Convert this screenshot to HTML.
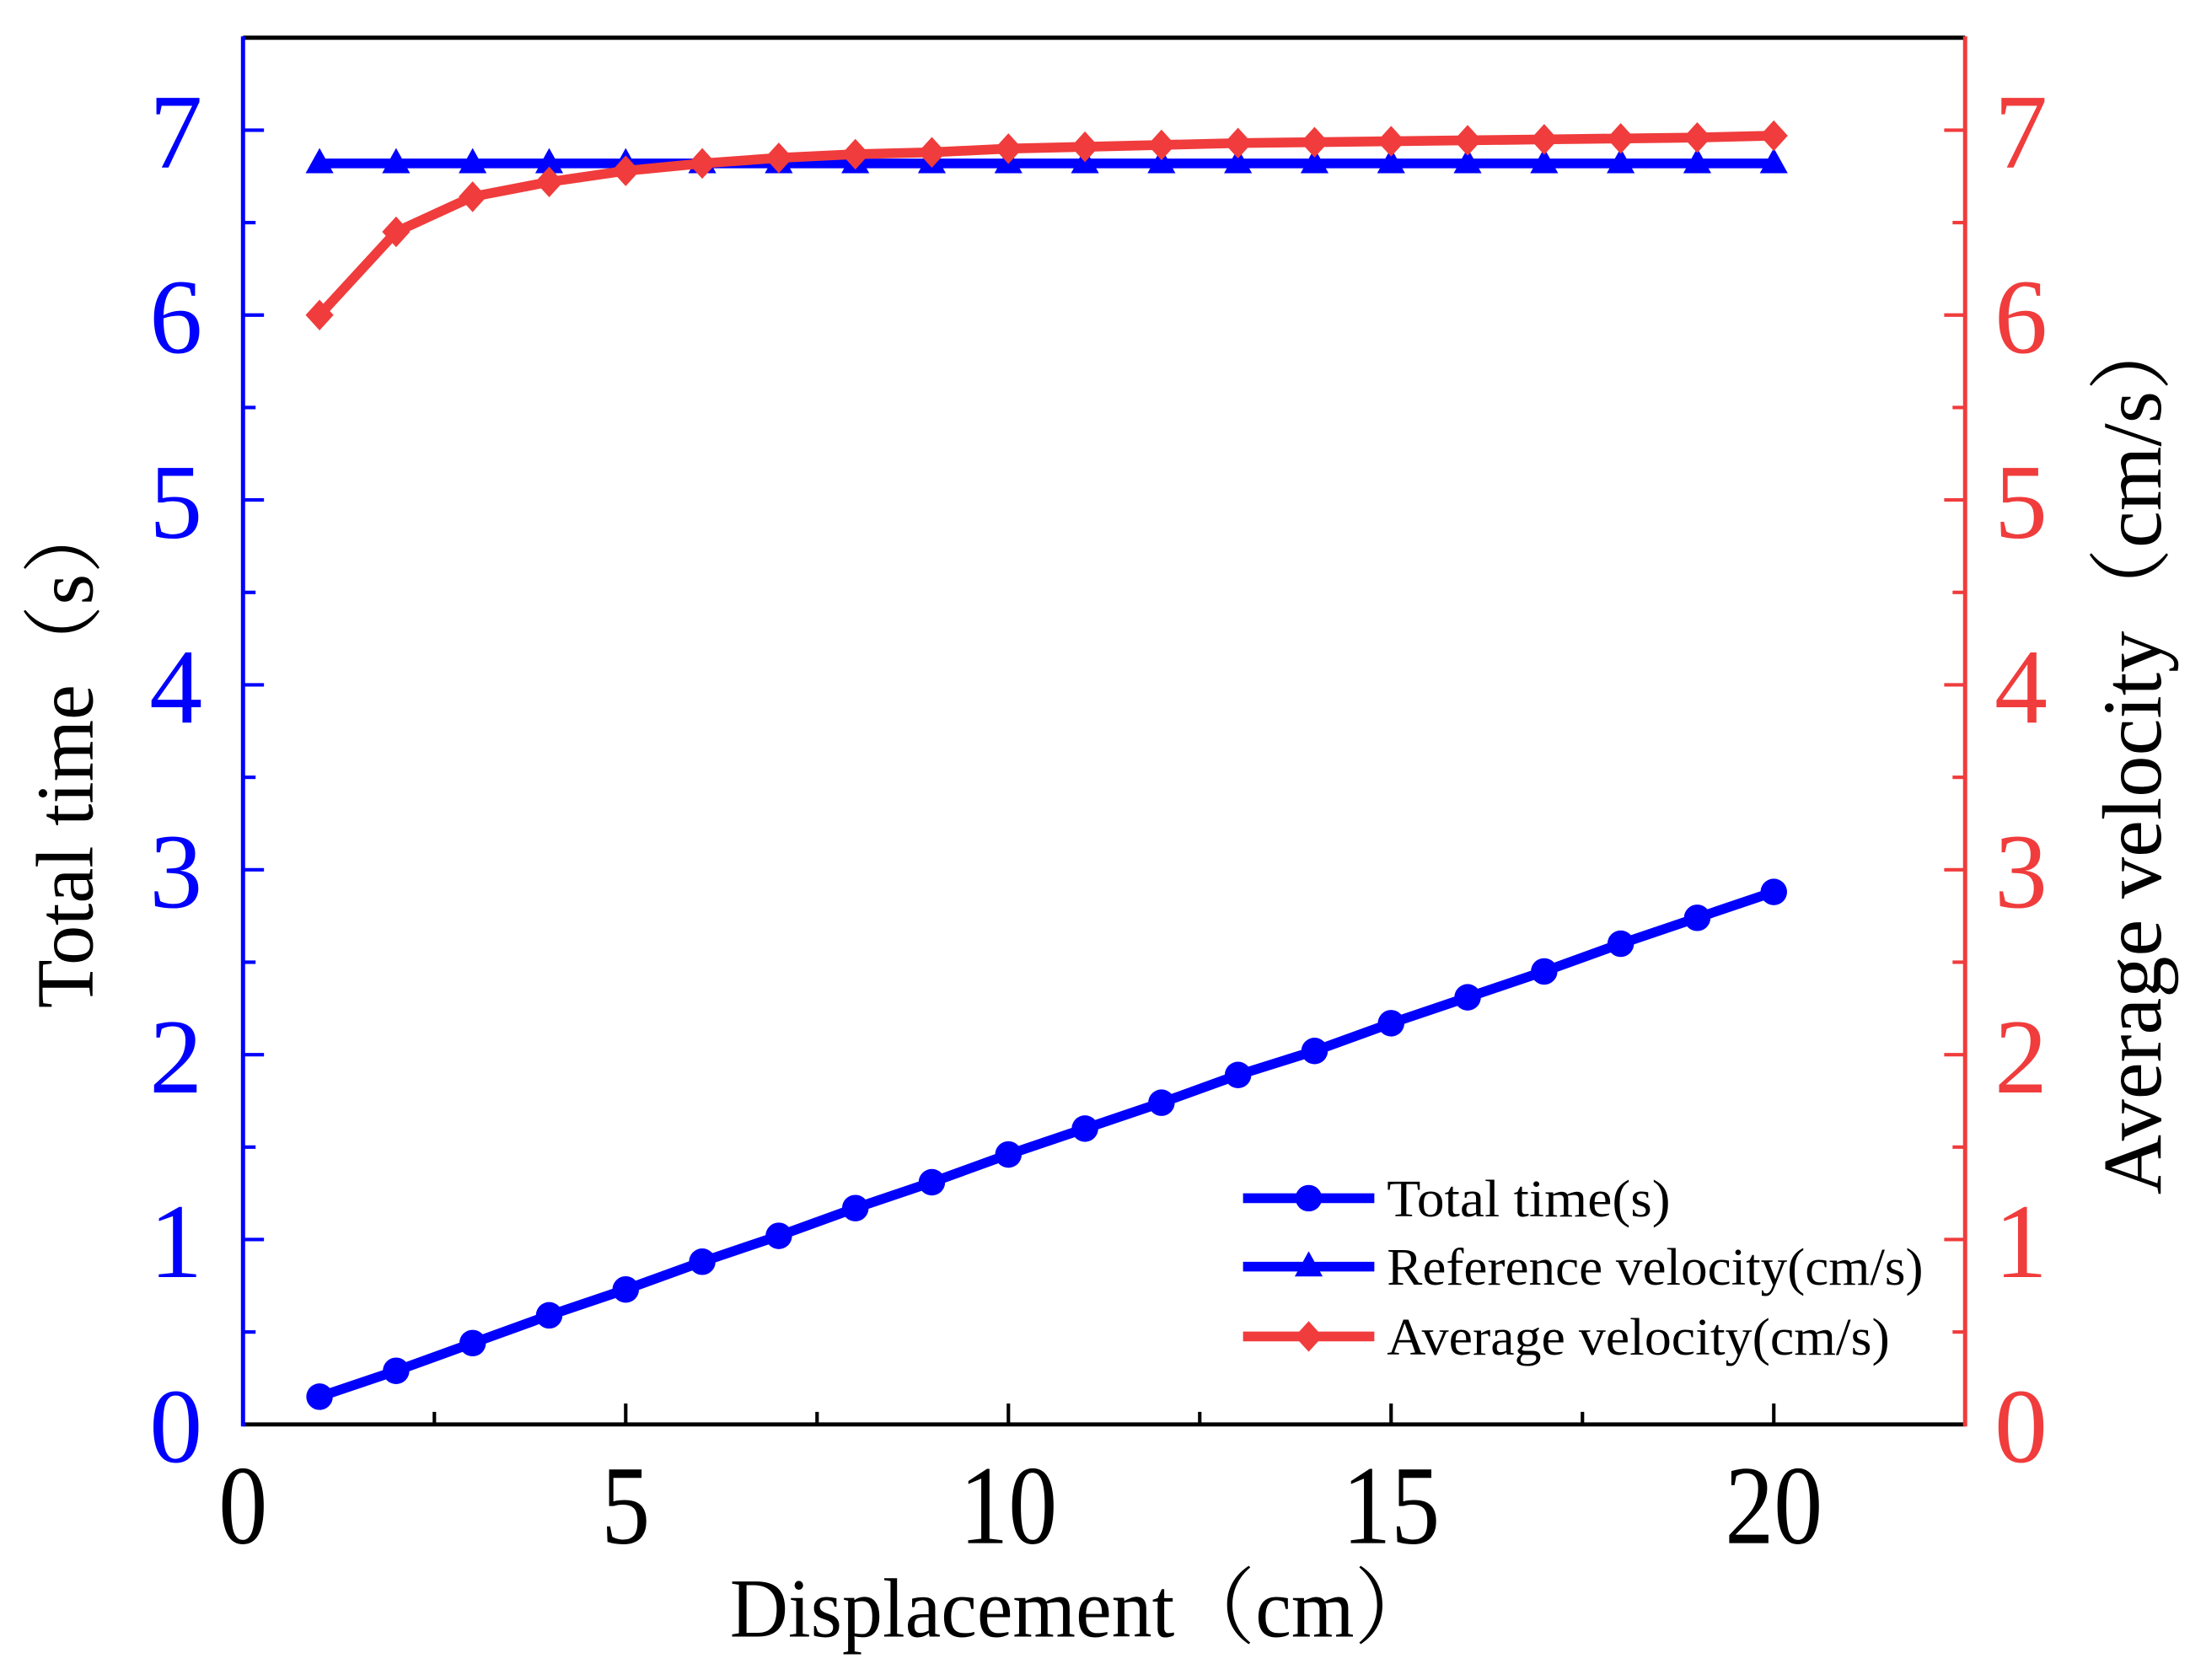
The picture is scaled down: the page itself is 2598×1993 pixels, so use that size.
<!DOCTYPE html>
<html><head><meta charset="utf-8"><style>
html,body{margin:0;padding:0;background:#fff}
svg{display:block}
text{font-family:"Liberation Serif","Noto Serif CJK SC",serif}
</style></head><body>
<svg id="chart" width="2598" height="1993" viewBox="0 0 1568 1203" preserveAspectRatio="none" xmlns="http://www.w3.org/2000/svg">
<g id="axes"></g><g id="series"></g><g id="legend"></g>
</svg>
<script>
const xs = [1,2,3,4,5,6,7,8,9,10,11,12,13,14,15,16,17,18,19,20];
const totalTime = [0.15,0.29,0.44,0.59,0.73,0.88,1.02,1.17,1.31,1.46,1.60,1.74,1.89,2.02,2.17,2.31,2.45,2.60,2.74,2.88];
const refVel = [6.82,6.82,6.82,6.82,6.82,6.82,6.82,6.82,6.82,6.82,6.82,6.82,6.82,6.82,6.82,6.82,6.82,6.82,6.82,6.82];
const avgVel = [6.0,6.45,6.64,6.72,6.78,6.82,6.85,6.87,6.88,6.90,6.91,6.92,6.93,6.935,6.94,6.945,6.95,6.955,6.96,6.97];
const xTicks = [0,5,10,15,20];
const yTicks = [0,1,2,3,4,5,6,7];
const legendLabels = ["Total time(s)","Reference velocity(cm/s)","Average velocity(cm/s)"];

const L=174,R=1407,T=27,B=1020,XMAX=22.5,YMAX=7.5;
const sx=v=>L+v/XMAX*(R-L);
const sy=v=>B-v/YMAX*(B-T);
const NS="http://www.w3.org/2000/svg";
function mk(tag,attrs,parent){const e=document.createElementNS(NS,tag);for(const k in attrs)e.setAttribute(k,attrs[k]);parent.appendChild(e);return e;}
const ax=document.getElementById('axes'),se=document.getElementById('series'),lg=document.getElementById('legend');

let e;
e=mk('line',{x1:L,y1:T,x2:R,y2:T,stroke:'#000','stroke-width':3},ax);


e=mk('line',{x1:L,y1:B,x2:R,y2:B,stroke:'#000','stroke-width':3},ax);


e=mk('line',{x1:L,y1:T-1,x2:L,y2:B+1.5,stroke:'#0000ff','stroke-width':3},ax);


e=mk('line',{x1:R,y1:T-1,x2:R,y2:B+1.5,stroke:'#f03c3c','stroke-width':3},ax);



for(let v=2.5;v<XMAX;v+=2.5){
  const major=Math.abs(v%5)<1e-6;
  e=mk('line',{x1:sx(v),y1:B,x2:sx(v),y2:B-(major?15:9),stroke:'#000','stroke-width':2.5},ax);
  
  
}
xTicks.forEach(v=>{
  e=mk('text',{x:sx(v),y:B+85,'font-size':76,'text-anchor':'middle',fill:'#000',transform:`translate(${sx(v)},0) scale(0.92,1.06) translate(${-sx(v)},${-(B+85)*0.06/1.06})`},ax);
  e.textContent=v;
  
  
});
for(let v=0.5;v<YMAX;v+=0.5){
  const major=Math.abs(v%1)<1e-6;
  const len=major?15:9;
  e=mk('line',{x1:L,y1:sy(v),x2:L+len,y2:sy(v),stroke:'#0000ff','stroke-width':2.5},ax);
  
  
  e=mk('line',{x1:R,y1:sy(v),x2:R-len,y2:sy(v),stroke:'#f03c3c','stroke-width':2.5},ax);
  
  
}
yTicks.forEach(v=>{
  e=mk('text',{x:145,y:sy(v)+27,'font-size':76,'text-anchor':'end',fill:'#0000ff'},ax);
  e.textContent=v;
  
  
  e=mk('text',{x:1428,y:sy(v)+27,'font-size':76,'text-anchor':'start',fill:'#f03c3c'},ax);
  e.textContent=v;
  
  
});
e=mk('text',{x:775,y:1172,'font-size':60,'text-anchor':'middle',fill:'#000',textLength:505,lengthAdjust:'spacingAndGlyphs'},ax);
e.textContent='Displacement（cm）';


e=mk('text',{x:0,y:0,'font-size':58,'text-anchor':'middle',fill:'#000',transform:'translate(66,538) rotate(-90)',textLength:368,lengthAdjust:'spacingAndGlyphs'},ax);
e.textContent='Total time（s）';


e=mk('text',{x:0,y:0,'font-size':60,'text-anchor':'middle',fill:'#000',transform:'translate(1547,538) rotate(-90)',textLength:635,lengthAdjust:'spacingAndGlyphs'},ax);
e.textContent='Average velocity（cm/s）';



function marker(kind,x,y,color,parent){
  let m;
  if(kind==='circle') m=mk('circle',{cx:x,cy:y,r:9.5,fill:color},parent);
  else if(kind==='tri') m=mk('polygon',{points:`${x},${y-11} ${x+10},${y+7} ${x-10},${y+7}`,fill:color},parent);
  else m=mk('polygon',{points:`${x},${y-11} ${x+10},${y} ${x},${y+11} ${x-10},${y}`,fill:color},parent);
  return m;
}
function series(vals,color,kind,name){
  const g=mk('g',{},se);
  
  
  const pts=xs.map((x,i)=>sx(x)+','+sy(vals[i])).join(' ');
  const p=mk('polyline',{points:pts,fill:'none',stroke:color,'stroke-width':7,'stroke-linejoin':'round'},g);
  
  
  xs.forEach((x,i)=>{
    const m=marker(kind,sx(x),sy(vals[i]),color,g);
    
    
  });
}
series(refVel,'#0000ff','tri','reference-velocity-series');
series(avgVel,'#f03c3c','diamond','average-velocity-series');
series(totalTime,'#0000ff','circle','total-time-series');

const legColors=['#0000ff','#0000ff','#f03c3c'],legKinds=['circle','tri','diamond'],legY=[858,907,957];
const legLens=[203,384,360];
legendLabels.forEach((lab,i)=>{
  const g=mk('g',{},lg);
  
  
  mk('line',{x1:890,y1:legY[i],x2:984,y2:legY[i],stroke:legColors[i],'stroke-width':7},g);
  marker(legKinds[i],937,legY[i],legColors[i],g);
  const t=mk('text',{x:993,y:legY[i]+13,'font-size':38,fill:'#000',textLength:legLens[i],lengthAdjust:'spacingAndGlyphs'},g);
  t.textContent=lab;
  
  
});
</script>
</body></html>
